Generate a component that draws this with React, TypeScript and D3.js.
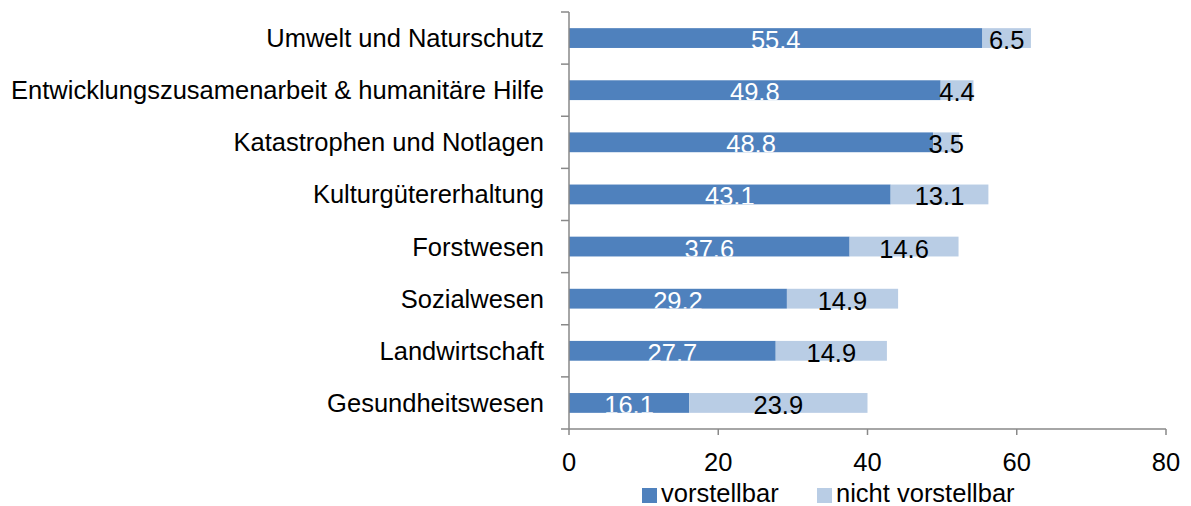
import React, { useEffect, useRef } from "react";
import * as d3 from "d3";

const categories = [
  "Umwelt und Naturschutz",
  "Entwicklungszusamenarbeit & humanitäre Hilfe",
  "Katastrophen und Notlagen",
  "Kulturgütererhaltung",
  "Forstwesen",
  "Sozialwesen",
  "Landwirtschaft",
  "Gesundheitswesen",
];
const vorstellbar = [55.4, 49.8, 48.8, 43.1, 37.6, 29.2, 27.7, 16.1];
const nichtVorstellbar = [6.5, 4.4, 3.5, 13.1, 14.6, 14.9, 14.9, 23.9];
const xTicks = [0, 20, 40, 60, 80];
const seriesNames = ["vorstellbar", "nicht vorstellbar"];
const colors = ["#4F81BD", "#B9CDE5"];

const W = 1191;
const H = 506;
const FONT = "'Liberation Sans', Arial, sans-serif";
const FS = 25.5;

export default function App() {
  const ref = useRef<SVGSVGElement>(null);
  useEffect(() => {
    const svg = d3.select(ref.current);
    svg.selectAll("*").remove();
    const x0 = 569, x1 = 1166, yTop = 12, yBot = 429;
    const x = d3.scaleLinear().domain([0, 80]).range([x0, x1]);
    const y = d3.scaleBand<string>().domain(categories).range([yTop, yBot]).paddingInner(0.62).paddingOuter(0.31);
    const axisColor = "#898989";

    const defs = svg.append("defs");
    categories.forEach((c, i) => {
      const segs = [
        { s: 0, v: vorstellbar[i], k: 0 },
        { s: vorstellbar[i], v: nichtVorstellbar[i], k: 1 },
      ];
      segs.forEach((sg) => {
        svg.append("rect")
          .attr("x", x(sg.s)).attr("y", y(c)!)
          .attr("width", x(sg.s + sg.v) - x(sg.s)).attr("height", y.bandwidth())
          .attr("fill", colors[sg.k]);
      });
      defs.append("clipPath").attr("id", "bar" + i)
        .append("rect").attr("x", x0).attr("y", y(c)!).attr("width", x1 - x0).attr("height", y.bandwidth());
    });
    // labels
    categories.forEach((c, i) => {
      const segs = [
        { s: 0, v: vorstellbar[i], k: 0 },
        { s: vorstellbar[i], v: nichtVorstellbar[i], k: 1 },
      ];
      segs.forEach((sg) => {
        svg.append("text")
          .attr("x", (x(sg.s) + x(sg.s + sg.v)) / 2)
          .attr("y", y(c)! + y.bandwidth() / 2 + 11)
          .attr("text-anchor", "middle")
          .attr("clip-path", sg.k === 0 ? `url(#bar${i})` : null)
          .attr("font-family", FONT).attr("font-size", FS)
          .attr("fill", sg.k === 0 ? "#ffffff" : "#000000")
          .text(sg.v.toFixed(1));
      });
    });

    // y axis
    svg.append("line").attr("x1", x0).attr("x2", x0).attr("y1", yTop).attr("y2", yBot)
      .attr("stroke", axisColor).attr("stroke-width", 1.5);
    const step = (yBot - yTop) / categories.length;
    for (let i = 0; i <= categories.length; i++) {
      const yy = yTop + i * step;
      svg.append("line").attr("x1", x0 - 8).attr("x2", x0).attr("y1", yy).attr("y2", yy)
        .attr("stroke", axisColor).attr("stroke-width", 1.5);
    }
    categories.forEach((c) => {
      svg.append("text")
        .attr("x", 544).attr("y", y(c)! + y.bandwidth() / 2 + 9)
        .attr("text-anchor", "end")
        .attr("font-family", FONT).attr("font-size", FS).attr("fill", "#000")
        .text(c);
    });

    // x axis
    svg.append("line").attr("x1", x0).attr("x2", x1).attr("y1", yBot).attr("y2", yBot)
      .attr("stroke", axisColor).attr("stroke-width", 1.5);
    xTicks.forEach((t) => {
      svg.append("line").attr("x1", x(t)).attr("x2", x(t)).attr("y1", yBot).attr("y2", yBot + 6)
        .attr("stroke", axisColor).attr("stroke-width", 1.5);
      svg.append("text").attr("x", x(t)).attr("y", 471)
        .attr("text-anchor", "middle")
        .attr("font-family", FONT).attr("font-size", FS).attr("fill", "#000")
        .text(String(t));
    });

    // legend
    const legX = [642, 817];
    seriesNames.forEach((n, k) => {
      svg.append("rect").attr("x", legX[k]).attr("y", 488).attr("width", 15).attr("height", 15)
        .attr("fill", colors[k]);
      svg.append("text").attr("x", legX[k] + 19).attr("y", 502)
        .attr("font-family", FONT).attr("font-size", FS).attr("fill", "#000")
        .text(n);
    });
  }, []);
  return <svg ref={ref} width={W} height={H} style={{ display: "block", position: "absolute", left: 0, top: 0 }} />;
}
